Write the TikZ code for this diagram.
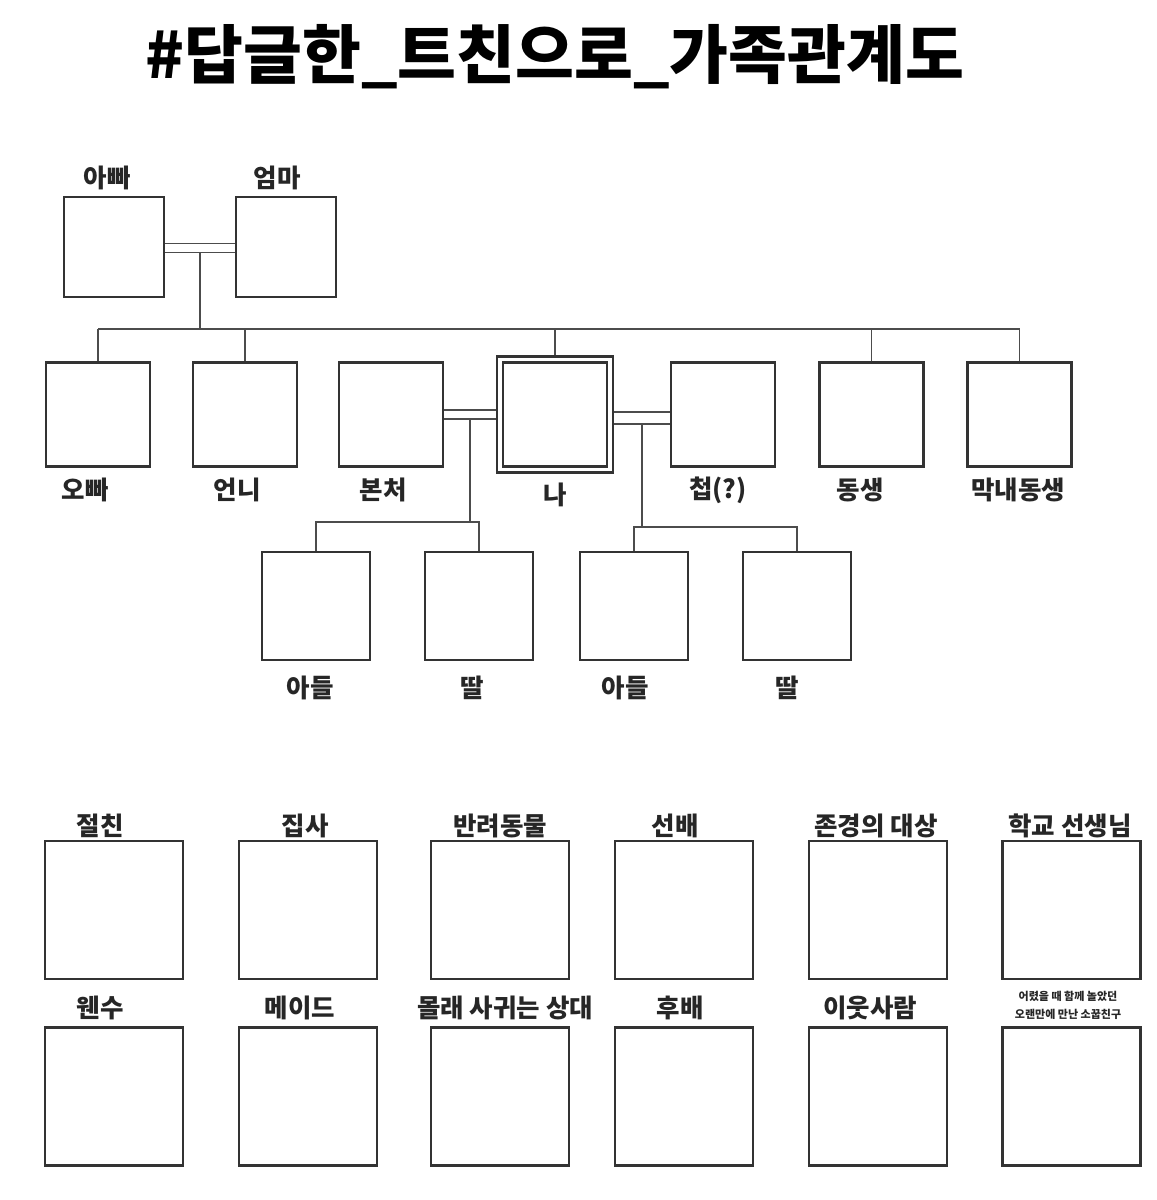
\documentclass[tikz,border=0pt]{standalone}
\usepackage{fontspec}
\newfontfamily\kor{Noto Sans CJK KR}
\usetikzlibrary{positioning,calc}

\begin{document}
\begin{tikzpicture}
[x=1pt, y=-1pt,
box/.style={draw=black!80, line width=2.6pt, inner sep=0pt, minimum width=#1, minimum height=#1},
box/.default=104pt,
rel/.style={font=\kor\bfseries\fontsize{25.5}{25.5}\selectfont, text=black!85, inner sep=0pt},
link/.style={draw=black!70, line width=1.9pt},
marriage/.style={draw=black!70, line width=1.9pt, double, double distance=#1},
marriage/.default=7.1pt]

\useasboundingbox[fill=white] (0,0) rectangle (1157,1200);

\node[font=\kor\bfseries\fontsize{64}{64}\selectfont, inner sep=0pt] (title) at (555,57) {\#답글한\_트친으로\_가족관계도};

% parents
\node[box=100pt] (dad) at (114,247) {};
\node[box=100pt] (mom) at (286,247) {};
\node[rel] (dadname) at (107,178) {아빠};
\node[rel] (momname) at (277,178) {엄마};

% siblings, me and partners
\node[box] (oppa) at (98,414.5) {};
\node[box] (unni) at (245,414.5) {};
\node[box] (wife) at (391,414.5) {};
\node[box=110pt, line width=2.4pt, double, double distance=3.8pt, outer sep=4.3pt] (me) at (555,414.5) {};
\node[box] (conc) at (723,414.5) {};
\node[box] (sib) at (871.5,414.5) {};
\node[box] (youngest) at (1019.5,414.5) {};

\node[rel] (oppaname) at (85,490) {오빠};
\node[rel] (unniname) at (237,490) {언니};
\node[rel] (wifename) at (383,490) {본처};
\node[rel] (mename) at (555,495) {나};
\node[rel] (concname) at (718,490) {첩(?)};
\node[rel] (sibname) at (860,490) {동생};
\node[rel] (youngestname) at (1018,490) {막내동생};

% children
\node[box=108pt] (son1) at (316,606) {};
\node[box=108pt] (dau1) at (479,606) {};
\node[box=108pt] (son2) at (634,606) {};
\node[box=108pt] (dau2) at (797,606) {};

\node[rel] (son1name) at (310,688) {아들};
\node[rel] (dau1name) at (472,688) {딸};
\node[rel] (son2name) at (625,688) {아들};
\node[rel] (dau2name) at (787,688) {딸};

% connectors
\coordinate (sibbar) at (0,329);
\coordinate (kidbar1) at (0,522);
\coordinate (kidbar2) at (0,527);

\draw[marriage] ([yshift=-1pt]dad.east) -- ([yshift=-1pt]mom.west) coordinate[midway] (wed0);
\draw[link] ([yshift=-4.5pt]wed0) -- (wed0 |- sibbar);
\draw[link] (oppa.north |- sibbar) -- (youngest.north |- sibbar);
\foreach \n in {oppa,unni,me,sib,youngest}
  \draw[link] (\n.north |- sibbar) -- (\n.north);

\draw[marriage] (wife.east) -- (me.west) coordinate[midway] (wed1);
\draw[link] ([yshift=-4.5pt]wed1) -- (wed1 |- kidbar1);
\draw[link] (son1.north) |- (kidbar1 -| dau1.north) -- (dau1.north);

\draw[marriage=10.1pt] ([yshift=-3.5pt]me.east) -- ([yshift=-3.5pt]conc.west) coordinate[midway] (wed2);
\draw[link] ([yshift=-6pt]wed2) -- (wed2 |- kidbar2);
\draw[link] (son2.north) |- (kidbar2 -| dau2.north) -- (dau2.north);

% other relations
\node[box=138pt] (bestie) at (114,910) {};
\node[box=138pt] (butler) at (308,910) {};
\node[box=138pt] (pet) at (500,910) {};
\node[box=138pt] (senior) at (684,910) {};
\node[box=138pt] (idol) at (878,910) {};
\node[box=138pt] (teacher) at (1071.5,910) {};

\node[box=138pt] (enemy) at (114,1096.5) {};
\node[box=138pt] (maid) at (308,1096.5) {};
\node[box=138pt] (secret) at (500,1096.5) {};
\node[box=138pt] (junior) at (684,1096.5) {};
\node[box=138pt] (neighbor) at (878,1096.5) {};
\node[box=138pt] (oldfriend) at (1071.5,1096.5) {};

\node[rel] (bestiename) at (100,826) {절친};
\node[rel] (butlername) at (305,826) {집사};
\node[rel] (petname) at (500,826) {반려동물};
\node[rel] (seniorname) at (675,826) {선배};
\node[rel] (idolname) at (876,826) {존경의 대상};
\node[rel] (teachername) at (1070,826) {학교 선생님};

\node[rel] (enemyname) at (100,1008) {웬수};
\node[rel] (maidname) at (300,1008) {메이드};
\node[rel] (secretname) at (505,1008) {몰래 사귀는 상대};
\node[rel] (juniorname) at (680,1008) {후배};
\node[rel] (neighborname) at (870,1008) {이웃사람};
\node[rel, font=\kor\bfseries\fontsize{11}{18}\selectfont, align=center] (oldfriendname) at (1068,1005) {어렸을 때 함께 놀았던\\오랜만에 만난 소꿉친구};
\end{tikzpicture}
\end{document}
